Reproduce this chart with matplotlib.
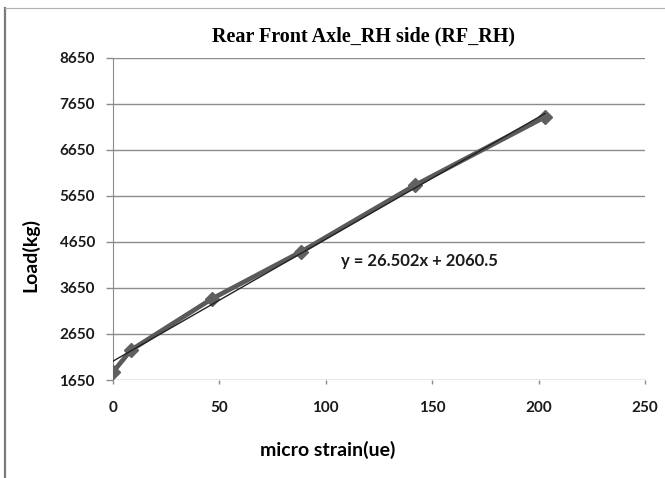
import matplotlib
matplotlib.use("Agg")
from matplotlib import pyplot as plt
from matplotlib.lines import Line2D

strain = [0, 8.4, 46.3, 88.3, 142, 203]
load = [1824, 2300, 3410, 4435, 5885, 7365]
slope = 26.502
intercept = 2060.5
y_ticks = [1650, 2650, 3650, 4650, 5650, 6650, 7650, 8650]
x_ticks = [0, 50, 100, 150, 200, 250]

tick_font = dict(family="Lato", weight="bold", size=11)

fig = plt.figure(figsize=(6.65, 4.78), dpi=100)
ax = fig.add_axes([0.170, 0.205, 0.800, 0.674])

# trend line
fit_x = [min(strain), max(strain)]
fit_y = [slope * v + intercept for v in fit_x]
ax.plot(strain, load, color="#5a5a5a", linewidth=3.4, marker="D",
        markersize=7, markerfacecolor="#606060", markeredgecolor="#606060",
        zorder=3)
ax.plot(fit_x, fit_y, color="#222222", linewidth=1.0, zorder=4)

ax.set_xlim(0, 250)
ax.set_ylim(1650, 8650)
ax.set_xticks(x_ticks)
ax.set_yticks(y_ticks)
ax.set_xticklabels([str(v) for v in x_ticks], fontdict=tick_font)
ax.set_yticklabels([str(v) for v in y_ticks], fontdict=tick_font)
ax.yaxis.grid(True, color="#8c8c8c", linewidth=1.0)
ax.set_axisbelow(True)
for side in ["top", "right", "bottom"]:
    ax.spines[side].set_visible(False)
ax.spines["left"].set_color("#8c8c8c")
ax.tick_params(axis="both", colors="#8c8c8c", labelcolor="#1a1a1a",
               width=1.0)
ax.tick_params(axis="y", length=5, pad=8)
ax.tick_params(axis="x", length=3, pad=12)

ax.set_title("Rear Front Axle_RH side (RF_RH)", family="Liberation Serif",
             weight="bold", size=14.5, pad=12, x=0.47)
ax.set_xlabel("micro strain(ue)", family="Lato", weight="bold", size=14)
ax.xaxis.set_label_coords(0.404, -0.19)
ax.set_ylabel("Load(kg)", family="Lato", weight="bold", size=14)
ax.yaxis.set_label_coords(-0.139, 0.388)

ax.text(107, 4240, f"y = {slope}x + {intercept}", family="Lato",
        weight="bold", size=12, color="#1a1a1a", va="center")

# outer chart frame lines
fig.add_artist(Line2D([0.008, 0.008], [0.0, 0.983], transform=fig.transFigure,
                      color="#7a7a7a", linewidth=1.6))
fig.add_artist(Line2D([0.008, 1.0], [0.983, 0.983], transform=fig.transFigure,
                      color="#b0b0b0", linewidth=0.8))

plt.savefig("out.png", dpi=100)
